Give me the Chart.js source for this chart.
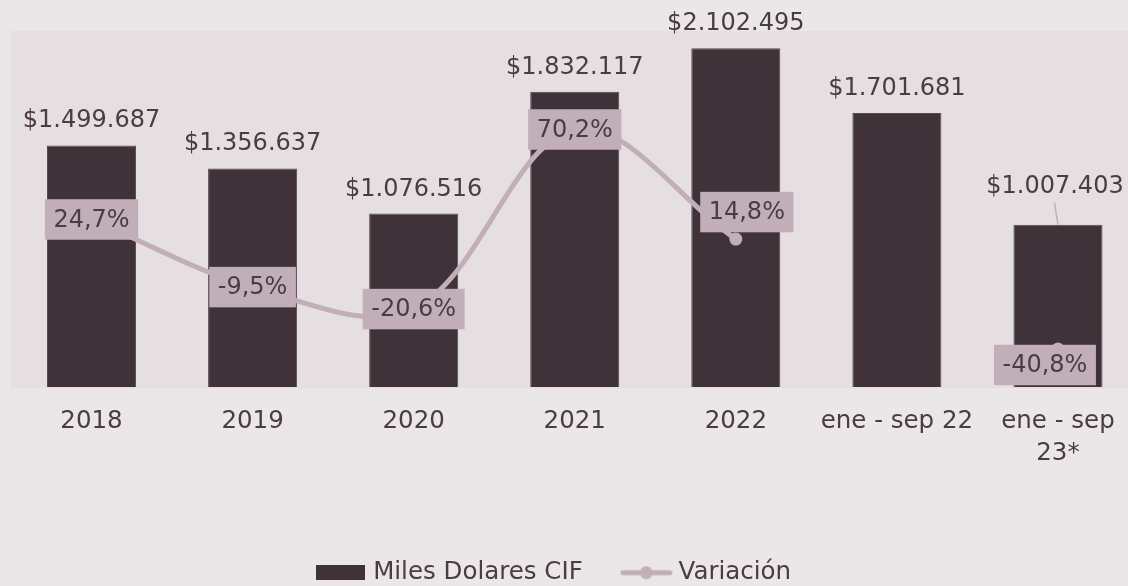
<!DOCTYPE html>
<html><head><meta charset="utf-8">
<script src="https://cdn.jsdelivr.net/npm/chart.js@4.4.0/dist/chart.umd.min.js"></script>
<style>
html,body{margin:0;padding:0;background:#ebe7e8;overflow:hidden;width:1128px;height:586px;}
#wrap{position:absolute;left:0;top:0;width:1145px;height:595px;}
canvas{display:block;}
</style></head><body>
<div id="wrap"><canvas id="c" width="1145" height="595"></canvas></div>
<script>
// ---- data ----
const categories = ['2018', '2019', '2020', '2021', '2022', 'ene - sep 22', ['ene - sep', '23*']];
const milesDolaresCIF = [1499687, 1356637, 1076516, 1832117, 2102495, 1701681, 1007403];
const variacion = [24.7, -9.5, -20.6, 70.2, 14.8, null, -40.8];
const seriesNames = ['Miles Dolares CIF', 'Variación'];

// ---- style ----
const TEXT = '#4b3b43';
const BAR = '#3f3238';
const LINE = '#c1aeb9';
const PLOT_BG = '#e5dfe1';
const FONT = "'DejaVu Sans', sans-serif";
const varLabelShift = [[0, 0], [0, 0], [0, 0], [0, 0], [11, -27], null, [-13, 16]];
const barLabelLift = [0, 0, 0, 0, 0, 0, 14];

const fmtMoney = n => '$' + String(n).replace(/\B(?=(\d{3})+(?!\d))/g, '.');
const fmtPct = v => v.toFixed(1).replace('.', ',') + '%';

Chart.defaults.font.family = FONT;

// legend swatches
const barSwatch = document.createElement('canvas');
barSwatch.width = 49; barSwatch.height = 15;
(function(){ const c = barSwatch.getContext('2d'); c.fillStyle = BAR; c.fillRect(0, 0, 49, 15); })();
const lineSwatch = document.createElement('canvas');
lineSwatch.width = 53; lineSwatch.height = 14;
(function(){ const c = lineSwatch.getContext('2d'); c.strokeStyle = LINE; c.lineWidth = 5; c.lineCap = 'round';
  c.beginPath(); c.moveTo(3, 7); c.lineTo(50, 7); c.stroke();
  c.fillStyle = LINE; c.beginPath(); c.arc(26.5, 7, 6.5, 0, Math.PI * 2); c.fill(); })();

const plotBg = {
  id: 'plotBg',
  beforeDraw(chart) {
    const {ctx, chartArea: a} = chart;
    ctx.save();
    ctx.fillStyle = PLOT_BG;
    ctx.fillRect(a.left, a.top, a.right - a.left, a.bottom - a.top + 1.5);
    ctx.restore();
  }
};

const valueLabels = {
  id: 'valueLabels',
  afterDatasetsDraw(chart) {
    const ctx = chart.ctx;
    const barMeta = chart.getDatasetMeta(0);
    const lineMeta = chart.getDatasetMeta(1);
    ctx.save();
    ctx.font = '24px ' + FONT;
    ctx.textAlign = 'center';
    ctx.textBaseline = 'alphabetic';
    barMeta.data.forEach((el, i) => {
      const lift = barLabelLift[i];
      ctx.fillStyle = TEXT;
      ctx.fillText(fmtMoney(milesDolaresCIF[i]), el.x - (lift ? 3 : 0), el.y - 18 - lift);
      if (lift) {
        ctx.strokeStyle = LINE;
        ctx.lineWidth = 1.5;
        ctx.beginPath();
        ctx.moveTo(el.x - 3.5, el.y - 22);
        ctx.lineTo(el.x, el.y);
        ctx.stroke();
      }
    });
    ctx.textBaseline = 'middle';
    lineMeta.data.forEach((pt, i) => {
      if (variacion[i] == null) return;
      const s = varLabelShift[i];
      const cx = pt.x + s[0], cy = pt.y + s[1];
      const t = fmtPct(variacion[i]);
      const w = ctx.measureText(t).width + 17, h = 40.5;
      ctx.fillStyle = LINE;
      ctx.fillRect(cx - w / 2, cy - h / 2, w, h);
      ctx.fillStyle = TEXT;
      ctx.fillText(t, cx, cy + 1);
    });
    ctx.restore();
  }
};

const legendShift = {
  id: 'legendShift',
  afterLayout(chart) { if (chart.legend) chart.legend.left -= 43; }
};

new Chart(document.getElementById('c'), {
  data: {
    labels: categories,
    datasets: [
      {
        type: 'bar', label: seriesNames[0], data: milesDolaresCIF,
        backgroundColor: BAR, borderColor: '#594a51', borderWidth: 1,
        yAxisID: 'y', order: 1, barPercentage: 0.553, categoryPercentage: 1
      },
      {
        type: 'line', label: seriesNames[1], data: variacion,
        borderColor: LINE, backgroundColor: LINE, borderWidth: 5, tension: 0.35,
        pointRadius: 6.5, pointHoverRadius: 6.5, pointBorderWidth: 0, pointBackgroundColor: LINE,
        yAxisID: 'y2', order: 0, spanGaps: false, borderCapStyle: 'round'
      }
    ]
  },
  options: {
    responsive: false, animation: false, devicePixelRatio: 1,
    layout: {padding: {left: 11, right: 1, top: 31, bottom: 0}},
    scales: {
      x: {
        grid: {display: false, drawTicks: false}, border: {display: false},
        ticks: {color: TEXT, font: {family: FONT, size: 24.5, lineHeight: 1.3}, padding: 19, maxRotation: 0, autoSkip: false},
        afterFit(s) { s.height = 130; }
      },
      y: {display: false, min: 0, max: 2210000},
      y2: {display: false, min: -60, max: 120, position: 'right'}
    },
    plugins: {
      legend: {
        position: 'bottom',
        labels: {
          usePointStyle: true, pointStyleWidth: 40, padding: 43.5, color: TEXT,
          font: {family: FONT, size: 24.5},
          sort: (a, b) => a.datasetIndex - b.datasetIndex,
          generateLabels(chart) {
            const items = Chart.defaults.plugins.legend.labels.generateLabels(chart);
            items.forEach(it => { it.pointStyle = it.datasetIndex === 0 ? barSwatch : lineSwatch; });
            return items;
          }
        }
      },
      tooltip: {enabled: false}
    }
  },
  plugins: [plotBg, valueLabels, legendShift]
});
</script>
</body></html>
